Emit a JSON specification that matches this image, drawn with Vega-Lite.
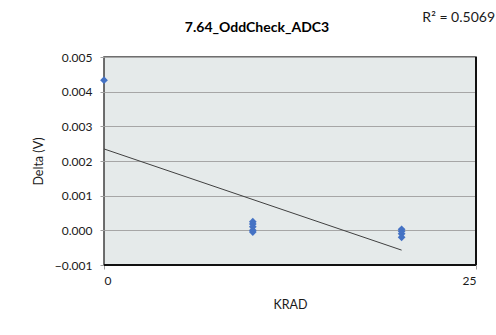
{
  "$schema": "https://vega.github.io/schema/vega-lite/v6.json",
  "autosize": {"type": "none"},
  "width": 372,
  "height": 208,
  "padding": {"left": 104, "top": 57, "right": 20, "bottom": 70},
  "background": "white",
  "title": {
    "text": "7.64_OddCheck_ADC3",
    "font": "Lato",
    "fontSize": 14,
    "fontWeight": "bold",
    "color": "#000000",
    "anchor": "middle",
    "frame": "group",
    "dx": -33,
    "offset": -24
  },
  "data": {
    "values": [
      {"KRAD": 0, "Delta": 0.00433},
      {"KRAD": 10, "Delta": 0.00025},
      {"KRAD": 10, "Delta": 0.00018},
      {"KRAD": 10, "Delta": 0.0001},
      {"KRAD": 10, "Delta": 0.0},
      {"KRAD": 10, "Delta": -0.00005},
      {"KRAD": 20, "Delta": 0.00003},
      {"KRAD": 20, "Delta": -0.00003},
      {"KRAD": 20, "Delta": -0.0001},
      {"KRAD": 20, "Delta": -0.0002}
    ]
  },
  "config": {
    "font": "Lato",
    "view": {"fill": "#e5eaea", "stroke": "#404040", "strokeWidth": 1.5},
    "axis": {
      "labelFont": "Lato",
      "titleFont": "Lato",
      "labelFontSize": 12,
      "titleFontSize": 12.5,
      "labelColor": "#1a1a1a",
      "titleColor": "#1a1a1a",
      "titleFontWeight": "normal",
      "tickColor": "#a0a0a0",
      "tickSize": 4,
      "domain": false,
      "labelOverlap": false,
      "gridColor": "#a6a6a6",
      "gridWidth": 1
    }
  },
  "layer": [
    {
      "mark": {"type": "point", "shape": "diamond", "filled": true, "size": 60, "color": "#4472c4", "opacity": 1},
      "encoding": {
        "x": {
          "field": "KRAD",
          "type": "quantitative",
          "scale": {"domain": [0, 25], "nice": false},
          "axis": {"values": [0, 25], "tickCount": 10, "grid": false, "title": "KRAD", "labelPadding": 6, "titlePadding": 12}
        },
        "y": {
          "field": "Delta",
          "type": "quantitative",
          "scale": {"domain": [-0.001, 0.005], "nice": false, "zero": false},
          "axis": {"values": [-0.001, 0, 0.001, 0.002, 0.003, 0.004, 0.005], "tickCount": 10, "format": ".3f", "title": "Delta (V)", "labelPadding": 8, "titleX": -66, "titleY": 104, "titleAlign": "center", "titleBaseline": "middle", "titleAngle": -90}
        }
      }
    },
    {
      "transform": [{"regression": "Delta", "on": "KRAD", "extent": [0, 20]}],
      "mark": {"type": "line", "color": "#404040", "strokeWidth": 1},
      "encoding": {
        "x": {"field": "KRAD", "type": "quantitative"},
        "y": {"field": "Delta", "type": "quantitative"}
      }
    },
    {
      "mark": {"type": "rule", "color": "#111111", "strokeWidth": 2},
      "encoding": {"y": {"datum": -0.001}}
    },
    {
      "mark": {"type": "rule", "color": "#111111", "strokeWidth": 2},
      "encoding": {"x": {"datum": 25}}
    },
    {
      "data": {"values": [{"label": "R² = 0.5069"}]},
      "mark": {"type": "text", "font": "Lato", "fontSize": 14, "color": "#1a1a1a", "align": "right", "baseline": "alphabetic", "dx": 19, "dy": -35, "clip": false},
      "encoding": {
        "x": {"datum": 25},
        "y": {"datum": 0.005},
        "text": {"field": "label"}
      }
    }
  ]
}
